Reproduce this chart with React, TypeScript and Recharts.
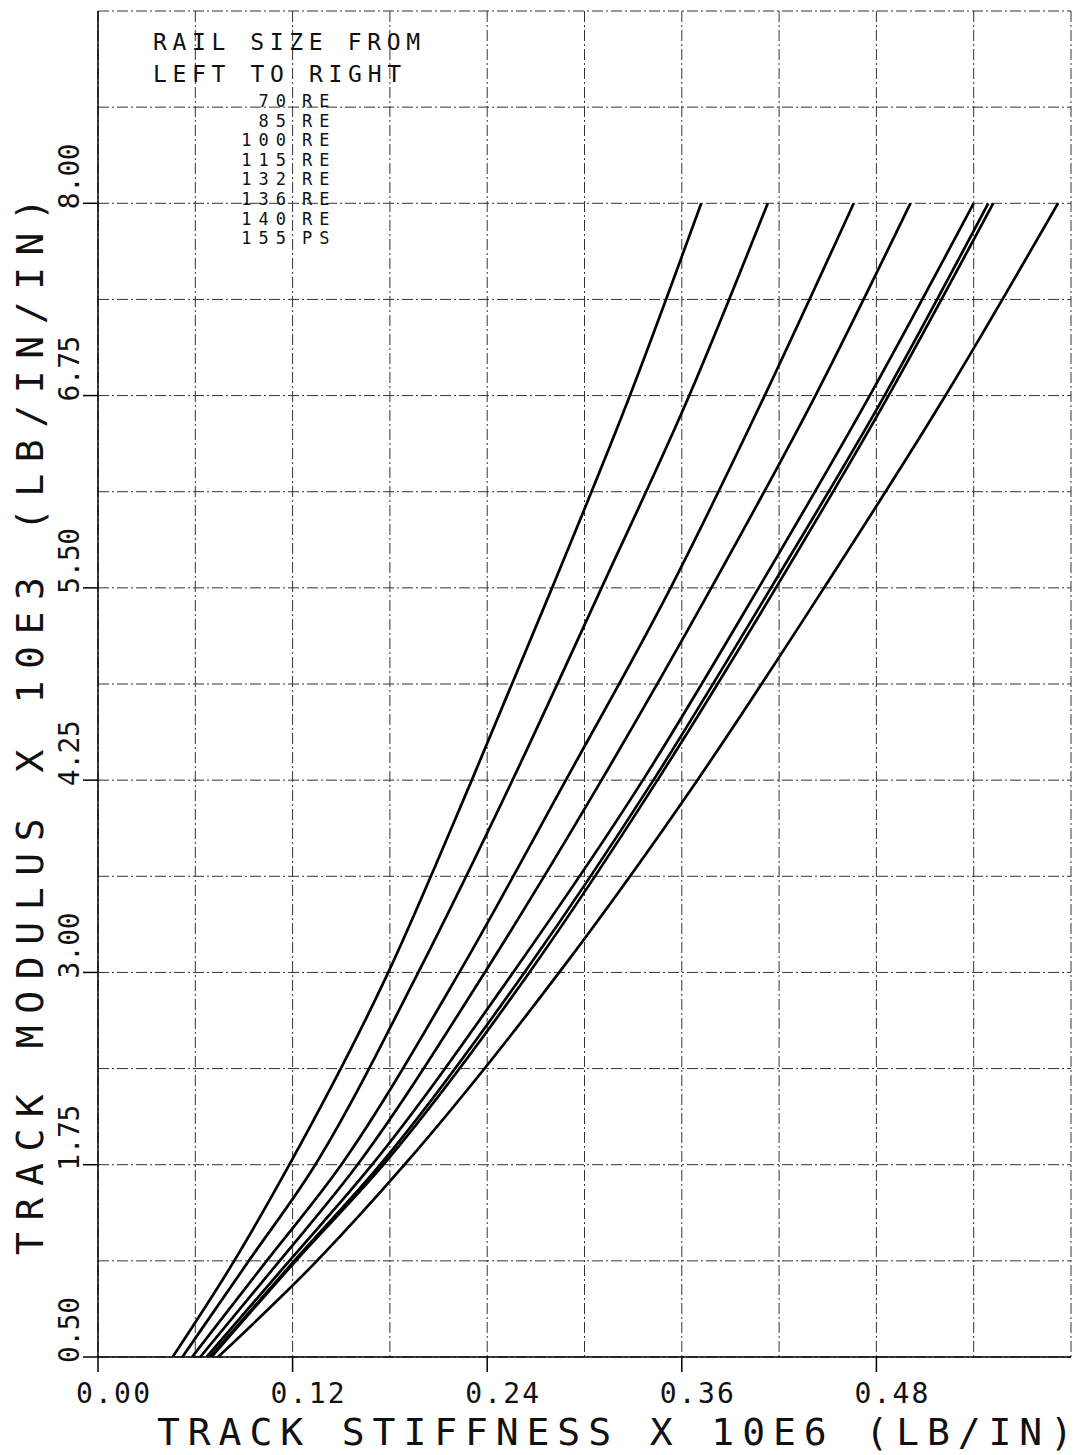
import { CartesianGrid, Line, LineChart, XAxis, YAxis } from 'recharts'

const modulus = [0.5, 1.125, 1.75, 3.0, 4.25, 5.5, 6.75, 8.0]

// Track stiffness (x 10E6 lb/in) at each modulus level, one list per rail size
const stiff70 = [0.046, 0.084, 0.118, 0.179, 0.2305, 0.28, 0.328, 0.372]
const stiff85 = [0.052, 0.093, 0.134, 0.1975, 0.2556, 0.3105, 0.3646, 0.413]
const stiff100 = [0.058, 0.104, 0.15, 0.2228, 0.2885, 0.3531, 0.4111, 0.466]
const stiff115 = [0.063, 0.112, 0.16, 0.2385, 0.3105, 0.3782, 0.4424, 0.501]
const stiff132 = [0.067, 0.118, 0.169, 0.256, 0.336, 0.4074, 0.4759, 0.54]
const stiff136 = [0.069, 0.121, 0.174, 0.263, 0.3425, 0.415, 0.485, 0.549]
const stiff140 = [0.07, 0.122, 0.176, 0.266, 0.345, 0.418, 0.4875, 0.552]
const stiff155 = [0.074, 0.135, 0.189, 0.2844, 0.3696, 0.4477, 0.5226, 0.592]

const railSizes = ['70', '85', '100', '115', '132', '136', '140', '155']
const railTypes = ['RE', 'RE', 'RE', 'RE', 'RE', 'RE', 'RE', 'PS']
const stiffness = [stiff70, stiff85, stiff100, stiff115, stiff132, stiff136, stiff140, stiff155]

const xGrid = [0, 0.06, 0.12, 0.18, 0.24, 0.3, 0.36, 0.42, 0.48, 0.54, 0.6]
const xLabeled = [0, 0.12, 0.24, 0.36, 0.48]
const yGrid = [0.5, 1.125, 1.75, 2.375, 3.0, 3.625, 4.25, 4.875, 5.5, 6.125, 6.75, 7.375, 8.0, 8.625, 9.25]
const yLabeled = [0.5, 1.75, 3.0, 4.25, 5.5, 6.75, 8.0]

const FONT = '"DejaVu Sans Mono", monospace'

const isIn = (v: number, list: number[]) => list.some((t) => Math.abs(t - v) < 1e-6)

function XTick({ x, y, payload }: any) {
  const v = Number(payload?.value)
  if (!isIn(v, xLabeled)) return <g />
  return (
    <g>
      <line x1={x} x2={x} y1={y} y2={y + 15} stroke="#000" strokeWidth={1.5} />
      <text
        x={x - 22}
        y={y + 46}
        fontSize={28}
        fontFamily={FONT}
        fill="#111"
        textLength={74}
        lengthAdjust="spacing"
      >
        {v.toFixed(2)}
      </text>
    </g>
  )
}

function YTick({ x, y, payload }: any) {
  const v = Number(payload?.value)
  if (!isIn(v, yLabeled)) return <g />
  return (
    <g>
      <line x1={x} x2={x - 15} y1={y} y2={y} stroke="#000" strokeWidth={1.5} />
      <text
        transform={`translate(${x - 19}, ${y + 6}) rotate(-90)`}
        fontSize={28}
        fontFamily={FONT}
        fill="#111"
        textLength={66}
        lengthAdjust="spacing"
      >
        {v.toFixed(2)}
      </text>
    </g>
  )
}

export default function App() {
  return (
    <div style={{ position: 'absolute', left: 0, top: 0, width: 1079, height: 1455, background: '#fff' }}>
      <LineChart width={1079} height={1455} margin={{ top: 11, right: 8, bottom: 0, left: 0 }}>
        <CartesianGrid stroke="#333" strokeWidth={1} strokeDasharray="11 3 2 3" />
        <XAxis
          type="number"
          dataKey="x"
          domain={[0, 0.6]}
          ticks={xGrid}
          interval={0}
          height={98}
          tickSize={0}
          tickMargin={0}
          tickLine={false}
          tick={<XTick />}
          axisLine={{ stroke: '#000', strokeWidth: 1.5 }}
          allowDataOverflow
        />
        <YAxis
          type="number"
          dataKey="y"
          domain={[0.5, 9.25]}
          ticks={yGrid}
          interval={0}
          width={98}
          tickSize={0}
          tickMargin={0}
          tickLine={false}
          tick={<YTick />}
          axisLine={{ stroke: '#000', strokeWidth: 1.5 }}
          allowDataOverflow
        />
        {stiffness.map((s, i) => (
          <Line
            key={railSizes[i]}
            name={`${railSizes[i]} ${railTypes[i]}`}
            data={s.map((x, j) => ({ x, y: modulus[j] }))}
            dataKey="y"
            type="monotone"
            stroke="#000"
            strokeWidth={2.7}
            dot={false}
            activeDot={false}
            isAnimationActive={false}
          />
        ))}
      </LineChart>
      <svg
        width={1079}
        height={1455}
        style={{ position: 'absolute', left: 0, top: 0, pointerEvents: 'none' }}
      >
        <g fontFamily={FONT} fill="#111">
          <text x={153} y={50} fontSize={23} textLength={267} lengthAdjust="spacing">
            RAIL SIZE FROM
          </text>
          <text x={153} y={82} fontSize={23} textLength={248} lengthAdjust="spacing">
            LEFT TO RIGHT
          </text>
          {railSizes.map((r, i) => (
            <g key={r}>
              <text x={293} y={107 + i * 19.6} fontSize={17} textAnchor="end" style={{ letterSpacing: 7 }}>
                {r}
              </text>
              <text x={302} y={107 + i * 19.6} fontSize={17} style={{ letterSpacing: 7 }}>
                {railTypes[i]}
              </text>
            </g>
          ))}
          <text x={157} y={1445} fontSize={38} textLength={916} lengthAdjust="spacing">
            TRACK STIFFNESS X 10E6 (LB/IN)
          </text>
          <text
            transform="translate(43, 1255) rotate(-90)"
            fontSize={38}
            textLength={1057}
            lengthAdjust="spacing"
          >
            TRACK MODULUS X 10E3 (LB/IN/IN)
          </text>
        </g>
      </svg>
    </div>
  )
}
